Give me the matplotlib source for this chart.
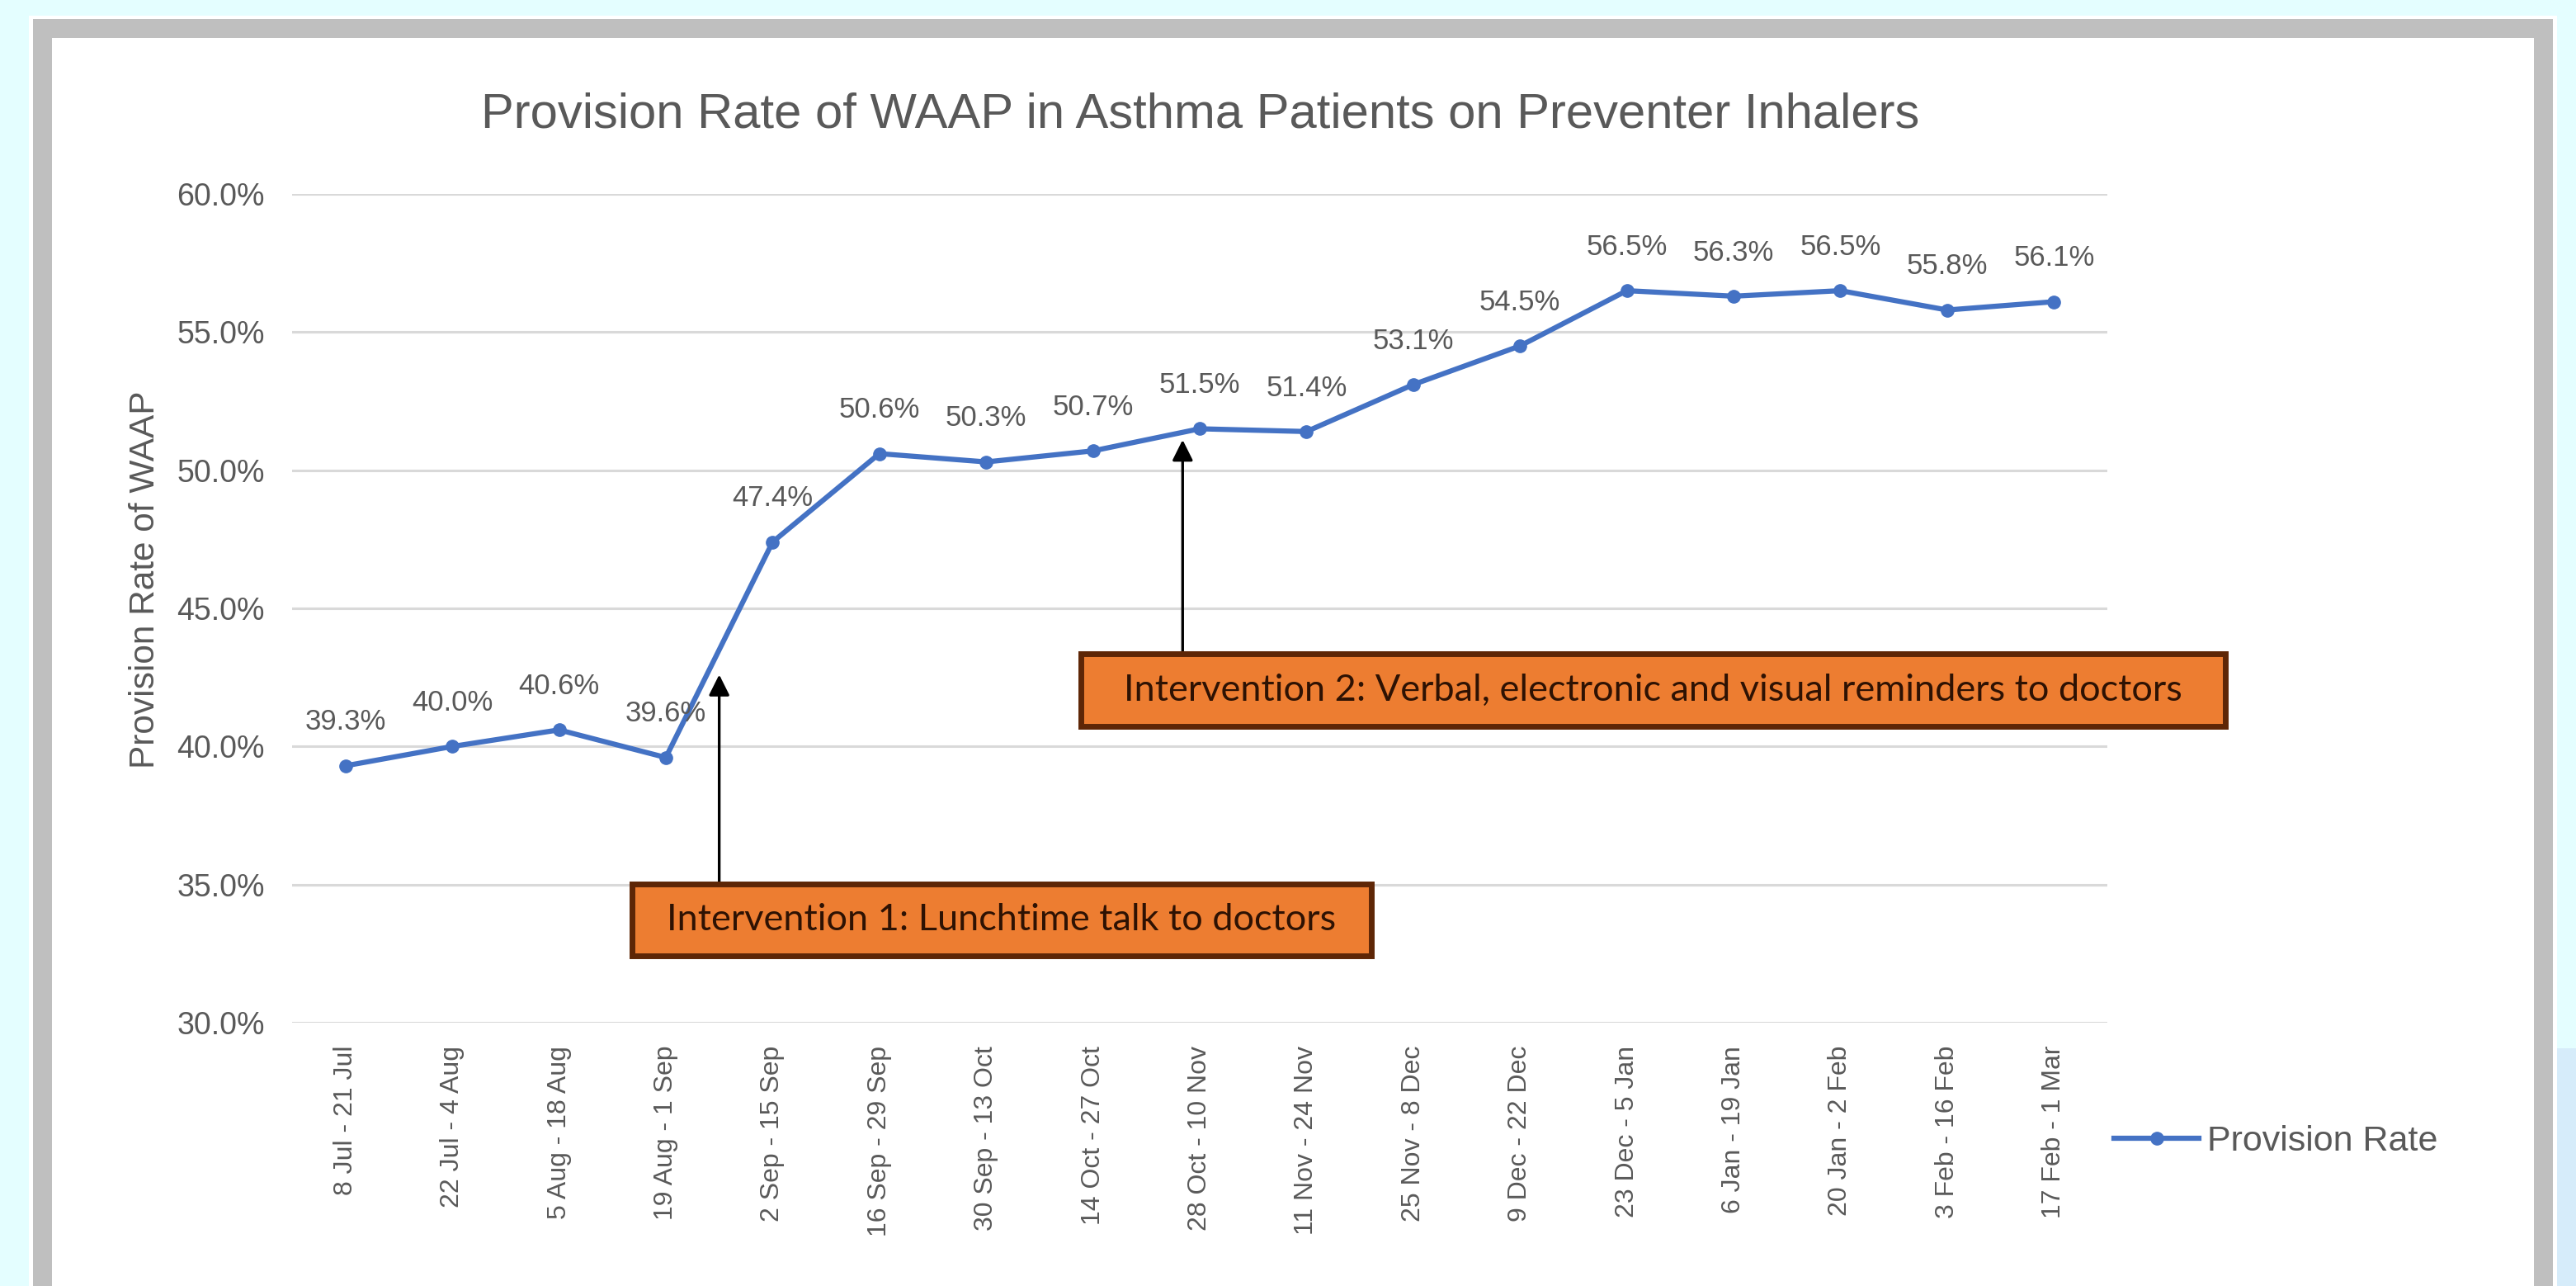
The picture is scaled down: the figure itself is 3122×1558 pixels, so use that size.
import matplotlib
matplotlib.use('Agg')
import matplotlib.pyplot as plt
from matplotlib.patches import Rectangle
from matplotlib.ticker import PercentFormatter
import numpy as np

periods = ['8 Jul - 21 Jul', '22 Jul - 4 Aug', '5 Aug - 18 Aug', '19 Aug - 1 Sep',
           '2 Sep - 15 Sep', '16 Sep - 29 Sep', '30 Sep - 13 Oct', '14 Oct - 27 Oct',
           '28 Oct - 10 Nov', '11 Nov - 24 Nov', '25 Nov - 8 Dec', '9 Dec - 22 Dec',
           '23 Dec - 5 Jan', '6 Jan - 19 Jan', '20 Jan - 2 Feb', '3 Feb - 16 Feb',
           '17 Feb - 1 Mar']
provision_rate = [39.3, 40.0, 40.6, 39.6, 47.4, 50.6, 50.3, 50.7, 51.5, 51.4,
                  53.1, 54.5, 56.5, 56.3, 56.5, 55.8, 56.1]
y_ticks = [30, 35, 40, 45, 50, 55, 60]

interventions = ['Intervention 1: Lunchtime talk to doctors',
                 'Intervention 2: Verbal, electronic and visual reminders to doctors']
arrow_x = [3.5, 7.84]
arrow_from = [35.0, 43.3]
arrow_to = [42.6, 51.1]

W, H = 3122, 1558
GREY_TXT = '#595959'
BLUE = '#4472C4'
plt.rcParams['font.family'] = ['Liberation Sans', 'DejaVu Sans']


def fx(x):
    return x / W


def fy(y):
    return 1 - y / H


def frame_rect(x0, y0, x1, y1, color, z):
    r = Rectangle((fx(x0), fy(y1)), fx(x1) - fx(x0), fy(y0) - fy(y1),
                  transform=fig.transFigure, facecolor=color, edgecolor='none', zorder=z)
    fig.add_artist(r)


fig = plt.figure(figsize=(W / 100, H / 100), dpi=100, facecolor='#E4FEFF')

# slide frame
frame_rect(3099, 1270, W, H + 10, '#D6ECFA', -30)
frame_rect(35, 19, 3099, H + 10, 'white', -20)
frame_rect(40, 23, 3094, H + 10, '#BFBFBF', -19)
frame_rect(63, 46, 3071, H + 10, 'white', -18)

ax = fig.add_axes([fx(354), fy(1239), fx(2554) - fx(354), fy(235) - fy(1239)])
ax.set_facecolor('none')

x = np.arange(len(periods))
ax.plot(x, provision_rate, color=BLUE, lw=4.5, marker='o', markersize=11,
        label='Provision Rate', zorder=3)
for xi, v in zip(x, provision_rate):
    ax.annotate(f'{v:.1f}%', (xi, v), xytext=(0, 38), textcoords='offset points',
                ha='center', va='center', fontsize=25, color=GREY_TXT)

ax.set_xlim(-0.5, len(periods) - 0.5)
ax.set_ylim(y_ticks[0], y_ticks[-1])
ax.set_yticks(y_ticks)
ax.yaxis.set_major_formatter(PercentFormatter(decimals=1))
ax.set_xticks(x)
ax.set_xticklabels(periods, rotation=90, fontsize=23, color=GREY_TXT)
ax.tick_params(axis='y', labelsize=27, labelcolor=GREY_TXT, length=0, pad=24)
ax.tick_params(axis='x', length=0, pad=20)
ax.grid(axis='y', color='#D9D9D9', lw=2.2)
ax.set_axisbelow(True)
for s in ax.spines.values():
    s.set_visible(False)

fig.text(fx(1455), fy(139), 'Provision Rate of WAAP in Asthma Patients on Preventer Inhalers',
         ha='center', va='center', fontsize=43, color=GREY_TXT)
fig.text(fx(176), fy(702), 'Provision Rate of WAAP', rotation=90,
         ha='center', va='center', fontsize=30.5, color=GREY_TXT)

ax.legend(loc='center left', bbox_to_anchor=(fx(2562), fy(1383)),
          bbox_transform=fig.transFigure, frameon=False, fontsize=31,
          handlelength=2.4, handletextpad=0.22, borderpad=0, borderaxespad=0,
          labelcolor=GREY_TXT)

# intervention arrows and boxes
for ax_x, y0, y1 in zip(arrow_x, arrow_from, arrow_to):
    ax.annotate('', xy=(ax_x, y1), xytext=(ax_x, y0), annotation_clip=False,
                arrowprops=dict(arrowstyle='-|>', color='black', lw=2.4,
                                mutation_scale=38, shrinkA=0, shrinkB=0), zorder=4)

boxes = [(766, 1071, 1662, 1158), (1310, 792, 2697, 880)]
for (x0, y0, x1, y1), label in zip(boxes, interventions):
    r = Rectangle((fx(x0), fy(y1)), fx(x1) - fx(x0), fy(y0) - fy(y1),
                  transform=fig.transFigure, facecolor='#ED7D31',
                  edgecolor='#5E2606', lw=5, zorder=5)
    fig.add_artist(r)
    fig.text(fx((x0 + x1) / 2), fy((y0 + y1) / 2), label, ha='center', va='center',
             fontsize=32.5, color='#2E1203', family=['Lato', 'DejaVu Sans'], zorder=6)

fig.savefig('out.png', dpi=100, facecolor=fig.get_facecolor())
